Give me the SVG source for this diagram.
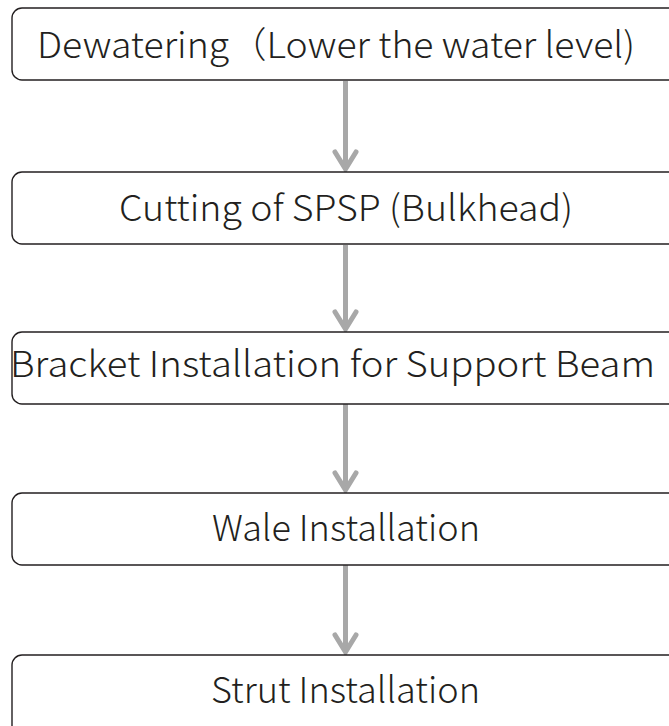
<svg xmlns="http://www.w3.org/2000/svg" width="669" height="726" viewBox="0 0 669 726">
<defs>
<style>
.box{fill:#fff;stroke:#231f20;stroke-width:1.4}
.lbl{font-family:"Noto Sans CJK JP","Noto Sans",sans-serif;font-size:36px;fill:#231f20;font-weight:300}
.shaft{stroke:#a8a8a8;stroke-width:5;fill:none}
.head{stroke:#a8a8a8;stroke-width:5;fill:none;stroke-linecap:round;stroke-linejoin:miter}
</style>
</defs>
<rect width="669" height="726" fill="#fff"/>
<g id="connectors">
<line class="shaft" x1="345.5" y1="81" x2="345.5" y2="168"/>
<polyline class="head" points="335,152 345.5,169 356,152"/>
<line class="shaft" x1="345.5" y1="245" x2="345.5" y2="328"/>
<polyline class="head" points="335,312 345.5,329 356,312"/>
<line class="shaft" x1="345.5" y1="404" x2="345.5" y2="489"/>
<polyline class="head" points="335,473 345.5,490 356,473"/>
<line class="shaft" x1="345.5" y1="565" x2="345.5" y2="651"/>
<polyline class="head" points="335,635 345.5,652 356,635"/>
</g>
<g id="n1">
<path class="box" d="M669,8 H22 A10,10 0 0 0 12,18 V70 A10,10 0 0 0 22,80 H669"/>
<text class="lbl" x="37" y="58" textLength="598" lengthAdjust="spacingAndGlyphs">Dewatering（Lower the water level)</text>
</g>
<g id="n2">
<path class="box" d="M669,172 H22 A10,10 0 0 0 12,182 V234 A10,10 0 0 0 22,244 H669"/>
<text class="lbl" x="119" y="221" textLength="454" lengthAdjust="spacingAndGlyphs">Cutting of SPSP (Bulkhead)</text>
</g>
<g id="n3">
<path class="box" d="M669,332 H22 A10,10 0 0 0 12,342 V394 A10,10 0 0 0 22,404 H669"/>
<text class="lbl" x="10" y="377" textLength="645" lengthAdjust="spacingAndGlyphs">Bracket Installation for Support Beam</text>
</g>
<g id="n4">
<path class="box" d="M669,493 H22 A10,10 0 0 0 12,503 V555 A10,10 0 0 0 22,565 H669"/>
<text class="lbl" x="212" y="541" textLength="268" lengthAdjust="spacingAndGlyphs">Wale Installation</text>
</g>
<g id="n5">
<path class="box" d="M669,655 H22 A10,10 0 0 0 12,665 V730"/>
<text class="lbl" x="211" y="703" textLength="269" lengthAdjust="spacingAndGlyphs">Strut Installation</text>
</g>
</svg>
